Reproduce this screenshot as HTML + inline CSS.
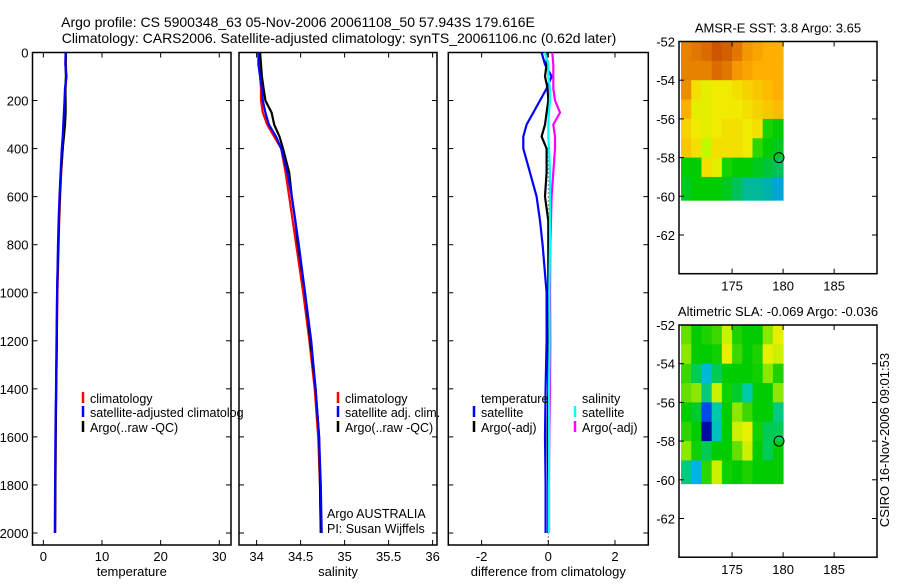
<!DOCTYPE html>
<html><head><meta charset="utf-8"><style>
body{margin:0;background:#fff;width:900px;height:580px;overflow:hidden}
svg{font-family:"Liberation Sans",sans-serif;font-size:13px}
</style></head><body>
<svg id="fig" width="900" height="580">
<text x="298" y="27" text-anchor="middle" font-size="14">Argo profile: CS 5900348_63 05-Nov-2006 20061108_50 57.943S 179.616E</text>
<text x="339" y="43" text-anchor="middle" font-size="14">Climatology: CARS2006. Satellite-adjusted climatology: synTS_20061106.nc (0.62d later)</text>
<text transform="translate(889,440) rotate(-90)" text-anchor="middle">CSIRO 16-Nov-2006 09:01:53</text>
</svg>
<script>
// ---- data ----
const pres = [0,50,100,150,200,250,300,350,400,500,600,700,800,1000,1200,1400,1600,1800,2000];
const tempClim = [3.85,3.85,3.9,3.8,3.75,3.6,3.5,3.4,3.3,3.05,2.85,2.7,2.6,2.4,2.3,2.2,2.1,2.05,2.0];
const tempSat  = [3.8,3.75,3.95,3.7,3.6,3.5,3.4,3.3,3.15,2.95,2.75,2.6,2.5,2.35,2.25,2.15,2.05,2.0,1.95];
const tempArgo = [3.85,3.8,3.85,3.75,3.8,3.8,3.7,3.5,3.3,3.0,2.8,2.65,2.55,2.35,2.3,2.2,2.1,2.05,2.0];
const salClim = [34.03,34.03,34.04,34.05,34.05,34.07,34.12,34.2,34.28,34.33,34.37,34.41,34.45,34.53,34.6,34.66,34.7,34.72,34.73];
const salSat  = [34.02,34.02,34.04,34.06,34.07,34.1,34.14,34.22,34.28,34.35,34.4,34.44,34.48,34.55,34.62,34.67,34.71,34.73,34.74];
const salArgo = [34.04,34.05,34.06,34.08,34.1,34.17,34.2,34.26,34.3,34.37,34.4,34.44,34.47,34.55,34.61,34.67,34.71,34.72,34.73];
const dTempSat  = [-0.2,-0.1,0.1,-0.05,-0.25,-0.45,-0.65,-0.75,-0.75,-0.55,-0.35,-0.25,-0.17,-0.05,-0.05,-0.08,-0.1,-0.08,-0.08];
const dTempArgo = [-0.05,-0.05,-0.1,-0.02,0,-0.05,-0.1,-0.2,-0.05,-0.05,-0.1,0,0,0,0,0,-0.02,0,0];
const dSalSat   = [-0.1,0,0,0.05,0.05,0.02,0,0,0.02,0.05,0.05,0.05,0.05,0.03,0.04,0.02,0.02,0.02,0.02];
const dSalArgo  = [0.12,0.15,0.15,0.15,0.2,0.35,0.15,0.2,0.2,0.15,0.1,0.08,0.06,0.05,0.06,0.05,0.03,0.02,0.02];
const depthTicks = [0,200,400,600,800,1000,1200,1400,1600,1800,2000];
const tempTicks = [0,10,20,30];
const salTicks = [34,34.5,35,35.5,36];
const diffTicks = [-2,0,2];
const mapLatTicks = [-52,-54,-56,-58,-60,-62];
const mapLonTicks = [175,180,185];
const sstGrid = [
 [5.2,5.3,5.4,5.6,5.5,5.3,5.0,4.9,4.8,4.8],
 [5.2,5.2,5.2,5.4,5.3,5.0,4.9,4.8,4.8,4.8],
 [5.1,4.4,4.2,4.3,4.3,4.4,4.5,4.6,4.7,4.8],
 [4.8,4.2,4.2,4.3,4.3,4.3,4.4,4.5,4.6,4.7],
 [4.5,4.3,4.2,4.3,4.4,4.4,4.3,4.4,3.1,3.0],
 [4.6,4.4,3.9,4.4,4.4,4.4,4.3,3.2,3.0,2.9],
 [3.0,3.0,4.4,4.2,3.1,3.0,3.0,2.9,2.8,2.7],
 [2.9,3.0,3.0,3.0,2.9,2.7,2.5,2.5,2.4,2.2]];
const slaGrid = [
 [0.05,0,0.02,0.04,0.08,0.02,0,0,0.06,0.09],
 [0.06,0,0,0.01,0.09,0.04,0,0.02,0.09,0.08],
 [0.04,-0.02,-0.06,-0.02,0,0,0,0.01,0.06,0.02],
 [0.05,0.06,-0.03,0.08,0.01,-0.01,-0.04,0,0,0.06],
 [0,-0.01,-0.12,-0.04,0,0.06,0.04,0,0,-0.03],
 [0.03,0,-0.17,-0.05,0,0.08,0.09,0.01,-0.02,-0.02],
 [0.06,0.01,-0.02,0,0,0.05,0.08,0,-0.02,0],
 [-0.03,-0.07,0.03,0.08,0.01,0,0.02,0,0,0]];
const floatLon = 179.6, floatLat = -58;

const NS='http://www.w3.org/2000/svg';
const svg=document.getElementById('fig');
function mk(tag,attrs,parent){const e=document.createElementNS(NS,tag);for(const k in attrs)e.setAttribute(k,attrs[k]);(parent||svg).appendChild(e);return e;}

const yTop=52.5, yBot=545, pMax=2050;
const yP=p=>yTop+(p/pMax)*(yBot-yTop);

function panel(name,x0,x1,xmin,xmax,ticks,label,showY){
  const g=mk('g',{});
  
  
  const xs=v=>x0+(v-xmin)/(xmax-xmin)*(x1-x0);
  const cid='clip-'+name;
  const cp=mk('clipPath',{id:cid},g);mk('rect',{x:x0,y:yTop,width:x1-x0,height:yBot-yTop},cp);
  const r=mk('rect',{x:x0,y:yTop,width:x1-x0,height:yBot-yTop,fill:'none',stroke:'#000','stroke-width':1.5},g);
  
  
  depthTicks.forEach(p=>{
    const y=yP(p);
    mk('line',{x1:x0,x2:x0+5,y1:y,y2:y,stroke:'#000'},g);
    mk('line',{x1:x1-5,x2:x1,y1:y,y2:y,stroke:'#000'},g);
    if(showY){const t=mk('text',{x:x0-4,y:y+5,'text-anchor':'end'},g);t.textContent=p;
      
      }
  });
  ticks.forEach(v=>{
    const x=xs(v);
    mk('line',{x1:x,x2:x,y1:yBot,y2:yBot-5,stroke:'#000'},g);
    mk('line',{x1:x,x2:x,y1:yTop,y2:yTop+5,stroke:'#000'},g);
    const t=mk('text',{x:x,y:yBot+16,'text-anchor':'middle'},g);t.textContent=v;
    
    
  });
  const xl=mk('text',{x:(x0+x1)/2,y:576,'text-anchor':'middle'},g);xl.textContent=label;
  
  
  const inner=mk('g',{'clip-path':'url(#'+cid+')'},g);
  return {g,inner,xs};
}
function series(P,vals,color,name){
  const pts=vals.map((v,i)=>P.xs(v).toFixed(1)+','+yP(pres[i]).toFixed(1)).join(' ');
  const l=mk('polyline',{points:pts,fill:'none',stroke:color,'stroke-width':2.2},P.inner);
  
  
}
function legend(P,x,y,color,text,name){
  if(color) mk('line',{x1:x,x2:x,y1:y-11,y2:y,stroke:color,'stroke-width':2.5},P.g);
  const t=mk('text',{x:x+7,y:y,'font-size':'12.5'},P.g);t.textContent=text;
  
  
}

const P1=panel('temperature-panel',32.5,231,-1.85,32,tempTicks,'temperature',true);
series(P1,tempClim,'#f00','temp-climatology-line');
series(P1,tempArgo,'#000','temp-argo-line');
series(P1,tempSat,'#00f','temp-satellite-line');

const P2=panel('salinity-panel',239,437,33.80,36.05,salTicks,'salinity',false);
series(P2,salClim,'#f00','sal-climatology-line');
series(P2,salArgo,'#000','sal-argo-line');
series(P2,salSat,'#00f','sal-satellite-line');

const P3=panel('difference-panel',448.3,648.3,-3,3,diffTicks,'difference from climatology',false);
mk('line',{x1:P3.xs(0),x2:P3.xs(0),y1:yTop,y2:yBot,stroke:'#000','stroke-dasharray':'1,3'},P3.inner);
series(P3,dTempSat,'#00f','diff-temp-satellite-line');
series(P3,dTempArgo,'#000','diff-temp-argo-line');
series(P3,dSalArgo,'#f0f','diff-sal-argo-line');
series(P3,dSalSat,'#0ff','diff-sal-satellite-line');

legend(P1,83,403,'#f00','climatology','legend-climatology');
legend(P1,83,417,'#00f','satellite-adjusted climatolog','legend-satellite-adjusted');
legend(P1,83,432,'#000','Argo(..raw -QC)','legend-argo');
legend(P2,338,403,'#f00','climatology','legend-climatology');
legend(P2,338,417,'#00f','satellite adj. clim.','legend-satellite-adj');
legend(P2,338,432,'#000','Argo(..raw -QC)','legend-argo');
legend(P2,320,518,null,'Argo AUSTRALIA','float-agency');
legend(P2,320,533,null,'PI: Susan Wijffels','float-pi');
legend(P3,474,403,null,'temperature','legend-temperature-header');
legend(P3,474,417,'#00f','satellite','legend-temp-satellite');
legend(P3,474,432,'#000','Argo(-adj)','legend-temp-argo');
legend(P3,575,403,null,'salinity','legend-salinity-header');
legend(P3,575,417,'#0ff','satellite','legend-sal-satellite');
legend(P3,575,432,'#f0f','Argo(-adj)','legend-sal-argo');

function cm(stops,v){
  if(v<=stops[0][0])return 'rgb('+stops[0][1].join(',')+')';
  for(let i=1;i<stops.length;i++){if(v<=stops[i][0]){const a=stops[i-1],b=stops[i],t=(v-a[0])/(b[0]-a[0]);
    return 'rgb('+a[1].map((c,j)=>Math.round(c+(b[1][j]-c)*t)).join(',')+')';}}
  return 'rgb('+stops[stops.length-1][1].join(',')+')';
}
const sstStops=[[2.0,[0,150,255]],[2.5,[0,185,150]],[3.0,[0,205,0]],[3.9,[190,250,0]],[4.3,[240,235,0]],[4.8,[255,175,0]],[5.6,[205,85,0]]];
const slaStops=[[-0.18,[0,0,140]],[-0.13,[0,50,230]],[-0.08,[0,170,255]],[-0.04,[0,200,170]],[0,[0,205,0]],[0.04,[60,215,0]],[0.07,[180,240,0]],[0.1,[255,240,0]],[0.14,[255,170,0]]];

function mapPanel(name,top,title,grid,stops){
  const x0=679,x1=877,lonMin=169.8,lonMax=189.2,latTop=-52,pxDeg=19.35;
  const g=mk('g',{});
  
  
  const xs=l=>x0+(l-lonMin)/(lonMax-lonMin)*(x1-x0);
  const ys=l=>top+(latTop-l)*pxDeg;
  const bottom=ys(-64);
  const tt=mk('text',{x:778,y:top-9,'text-anchor':'middle'},g);tt.textContent=title;
  
  
  grid.forEach((row,r)=>row.forEach((v,c)=>{
    const la0=-52-r, la1=(r===grid.length-1)?-60.2:-53-r;
    const cell=mk('rect',{x:xs(170+c),y:ys(la0),width:xs(171+c)-xs(170+c)+0.5,height:ys(la1)-ys(la0)+0.5,fill:cm(stops,v)},g);
    
    
  }));
  const fr=mk('rect',{x:x0,y:top,width:x1-x0,height:bottom-top,fill:'none',stroke:'#000','stroke-width':1.5},g);
  
  
  mapLatTicks.forEach(l=>{const y=ys(l);
    mk('line',{x1:x0,x2:x0+5,y1:y,y2:y,stroke:'#000'},g);mk('line',{x1:x1-5,x2:x1,y1:y,y2:y,stroke:'#000'},g);
    const t=mk('text',{x:x0-4,y:y+5,'text-anchor':'end'},g);t.textContent=l;
    
    });
  mapLonTicks.forEach(l=>{const x=xs(l);
    mk('line',{x1:x,x2:x,y1:bottom,y2:bottom-5,stroke:'#000'},g);mk('line',{x1:x,x2:x,y1:top,y2:top+5,stroke:'#000'},g);
    const t=mk('text',{x:x,y:bottom+17,'text-anchor':'middle'},g);t.textContent=l;
    
    });
  const c=mk('circle',{cx:xs(floatLon),cy:ys(floatLat),r:5,fill:'none',stroke:'#000'},g);
  
  
}
mapPanel('sst-map',41.5,'AMSR-E SST: 3.8 Argo: 3.65',sstGrid,sstStops);
mapPanel('sla-map',325,'Altimetric SLA: -0.069 Argo: -0.036',slaGrid,slaStops);
</script>
</body></html>
